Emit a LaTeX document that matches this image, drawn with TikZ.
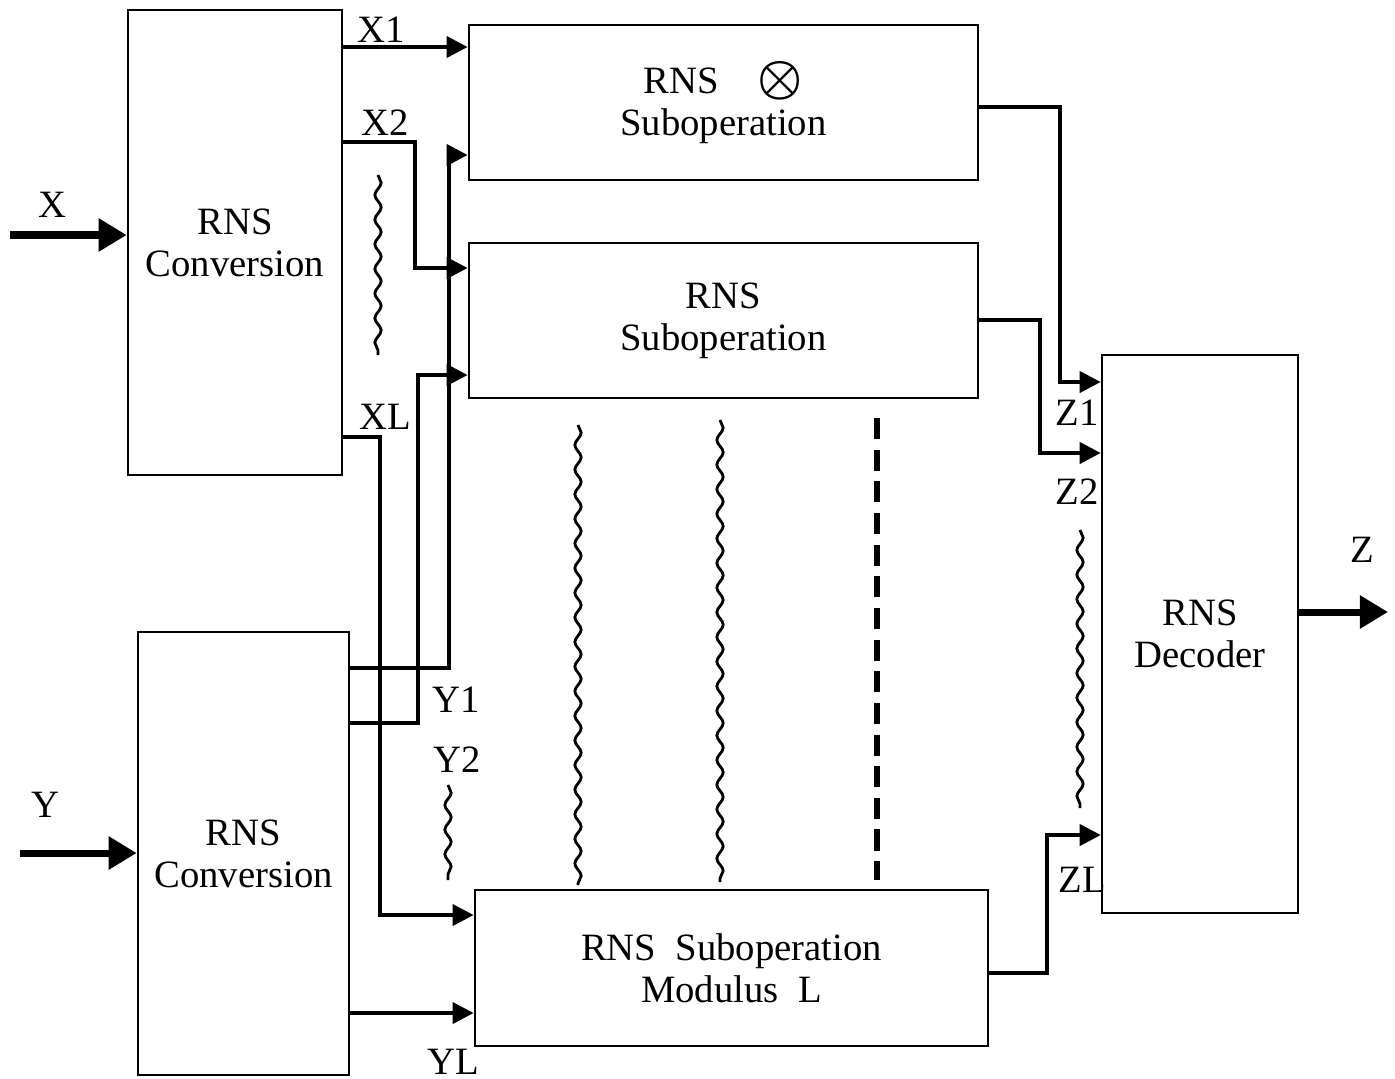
\documentclass[tikz,border=0pt]{standalone}
\usepackage{fontspec}
\setmainfont{Liberation Serif}
\usepackage{amsmath}
\usetikzlibrary{arrows.meta, positioning, decorations.pathmorphing}

\tikzset{
  blok/.style={draw, line width=0.7pt, align=center, inner sep=0pt, font=\fontsize{11}{12}\selectfont},
  vodic/.style={line width=1.1pt, -{Triangle[length=6pt,width=6pt]}},
  vstup/.style={line width=2pt, -{Triangle[length=8pt,width=9pt]}},
  vlnka/.style={line width=0.8pt, decorate, decoration={snake, amplitude=0.9pt, segment length=7pt}},
  popis/.style={font=\fontsize{11}{13}\selectfont, inner sep=1pt}
}

\begin{document}
\begin{tikzpicture}[x=0.01cm, y=-0.01cm]
  \useasboundingbox (0,0) rectangle (1395,1078);

  % Bloky
  \node[blok, minimum width=2.14cm, minimum height=4.65cm] (konvX) at (235,242.5) {RNS\\Conversion};
  \node[blok, minimum width=2.11cm, minimum height=4.43cm] (konvY) at (243.5,853.5) {RNS\\Conversion};
  \node[blok, minimum width=5.09cm, minimum height=1.55cm] (sub1) at (723.5,102.5) {RNS\quad{\Large$\boldsymbol{\otimes}$}\\Suboperation};
  \node[blok, minimum width=5.09cm, minimum height=1.55cm] (sub2) at (723.5,320.5) {RNS\\Suboperation};
  \node[blok, minimum width=5.13cm, minimum height=1.56cm] (subL) at (731.5,968) {RNS\ \ Suboperation\\Modulus\ \ L};
  \node[blok, minimum width=1.96cm, minimum height=5.58cm] (dek) at (1200,634) {RNS\\Decoder};

  % Vstupy a vystup
  \coordinate (vstX) at (10,235);
  \coordinate (vstY) at (20,853);
  \coordinate (vysZ) at (1388,612);
  \draw[vstup] (vstX) -- (konvX.west |- vstX);
  \draw[vstup] (vstY) -- (konvY.west |- vstY);
  \draw[vstup] (dek.east |- vysZ) -- (vysZ);
  \node[popis] (lX) at (52,205) {X};
  \node[popis] (lY) at (45,805) {Y};
  \node[popis] (lZ) at (1362,550) {Z};

  % Vetve X
  \draw[vodic] (konvX.east |- 0,47) -- (sub1.west |- 0,47);
  \draw[vodic] (konvX.east |- 0,142) -| (415,268) -- (sub2.west |- 0,268);
  \draw[vodic] (konvX.east |- 0,437) -| (380,915) -- (subL.west |- 0,915);
  \node[popis] (lX1) at (381,30) {X1};
  \node[popis] (lX2) at (385,123) {X2};
  \node[popis] (lXL) at (385,417) {XL};

  % Vetve Y
  \draw[vodic] (konvY.east |- 0,668) -| (449,155) -- (sub1.west |- 0,155);
  \draw[vodic] (konvY.east |- 0,723) -| (418,375) -- (sub2.west |- 0,375);
  \draw[vodic] (konvY.east |- 0,1013) -- (subL.west |- 0,1013);
  \node[popis] (lY1) at (456,700) {Y1};
  \node[popis] (lY2) at (457,760) {Y2};
  \node[popis] (lYL) at (453,1062) {YL};

  % Vetve Z
  \draw[vodic] (sub1.east |- 0,107) -| (1060,382) -- (dek.west |- 0,382);
  \draw[vodic] (sub2.east |- 0,320) -| (1040,453) -- (dek.west |- 0,453);
  \draw[vodic] (subL.east |- 0,973) -| (1047,835) -- (dek.west |- 0,835);
  \node[popis] (lZ1) at (1077,413) {Z1};
  \node[popis] (lZ2) at (1077,492) {Z2};
  \node[popis] (lZL) at (1082,880) {ZL};

  % Vynechane vetve
  \draw[vlnka] (378,175) -- (378,355);
  \draw[vlnka] (448,785) -- (448,880);
  \draw[vlnka] (578,425) -- (578,885);
  \draw[vlnka] (720,420) -- (720,882);
  \draw[line width=1.8pt, dash pattern=on 6pt off 3pt] (877,418) -- (877,880);
  \draw[vlnka] (1080,530) -- (1080,808);
\end{tikzpicture}
\end{document}
